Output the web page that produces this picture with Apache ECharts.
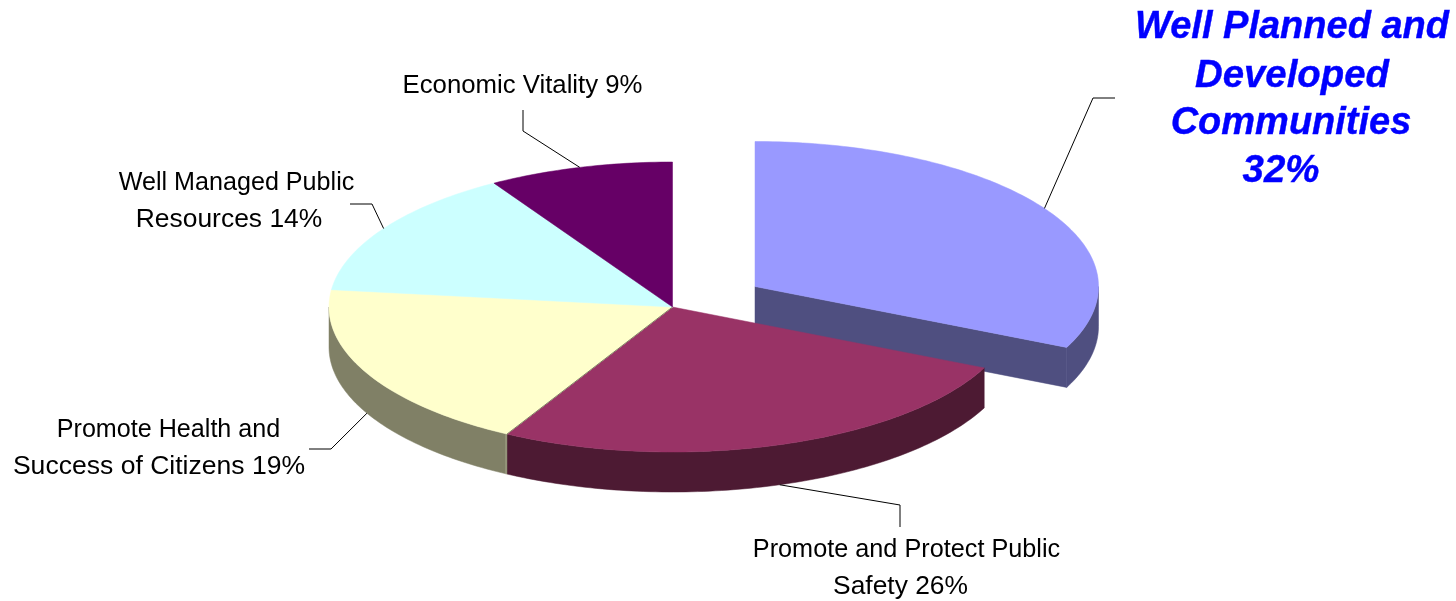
<!DOCTYPE html>
<html>
<head>
<meta charset="utf-8">
<style>html,body{margin:0;padding:0;background:#fff}#chart{width:1456px;height:601px}</style>
<script src="https://cdn.jsdelivr.net/npm/echarts@6/dist/echarts.min.js"></script>
</head>
<body>
<div id="chart"></div>
<script>
// ---- data ----
const categories = [
  'Well Planned and\nDeveloped\nCommunities',
  'Promote and Protect Public\nSafety',
  'Promote Health and\nSuccess of Citizens',
  'Well Managed Public\nResources',
  'Economic Vitality'
];
const shares = [31.9, 26.1, 18.9, 14.4, 8.7];
const percentSeparators = ['\n', ' ', ' ', ' ', ' '];

// ---- styles ----
const topColors  = ['#9999FF', '#993366', '#FFFFCC', '#CCFFFF', '#660066'];
const wallColors = ['#4F4F80', '#4D1A33', '#808066', '#668080', '#330033'];
const FONT = '"Liberation Sans", Arial, sans-serif';

// ---- layout ----
const CX = 672.5, CY = 307, RX = 343.5, RY = 145, DEPTH = 40;
const explode = [[82.5, -20.5], [0, 0], [0, 0], [0, 0], [0, 0]];
// each leader: elbow point, then end point (start is computed on the rim)
const leaders = [
  [[1093, 98], [1115, 98]],
  [[900, 505], [900, 527]],
  [[331, 449], [309, 449]],
  [[372, 204], [350, 204]],
  [[523, 131], [523, 110]]
];
// centre and horizontal stretch of each text line
const labelLines = [
  [[1292, 28, 1.0], [1292, 77, 1.01], [1291, 124, 1.0], [1281, 172, 1.01]],
  [[906.5, 550, 1.01], [900.5, 587, 1.055]],
  [[168.5, 430, 1.005], [159, 467, 1.062]],
  [[236.5, 183, 1.005], [229, 220, 1.057]],
  [[522.5, 86, 1.03]]
];
const leaderDrop = [false, true, true, false, false];

const total = shares.reduce((a, b) => a + b, 0);
const rad = d => d * Math.PI / 180;

function sliceAngles(i) {
  const before = shares.slice(0, i).reduce((a, b) => a + b, 0);
  return [-90 + before / total * 360, -90 + (before + shares[i]) / total * 360];
}
function rim(cx, cy, deg) {
  return [cx + RX * Math.cos(rad(deg)), cy + RY * Math.sin(rad(deg))];
}
function arc(cx, cy, a0, a1) {
  const pts = [], n = Math.max(2, Math.ceil(Math.abs(a1 - a0)));
  for (let k = 0; k <= n; k++) pts.push(rim(cx, cy, a0 + (a1 - a0) * k / n));
  return pts;
}

function renderSlice(params, api) {
  const i = params.dataIndex;
  const [a0, a1] = sliceAngles(i);
  const cx = CX + explode[i][0], cy = CY + explode[i][1];
  const children = [];

  // radial wall (only seen when the slice's end edge faces the viewer)
  if (explode[i][0] !== 0) {
    const e = rim(cx, cy, a1);
    children.push({ type: 'polygon', shape: { points: [[cx, cy], e, [e[0], e[1] + DEPTH], [cx, cy + DEPTH]] },
      style: { fill: wallColors[i], stroke: wallColors[i], lineWidth: 0.5 } });
  }
  // curved front wall: the part of the arc between 0 and 180 degrees
  const f0 = Math.max(a0, 0), f1 = Math.min(a1, 180);
  if (f1 > f0) {
    const top = arc(cx, cy, f0, f1);
    const bottom = top.map(p => [p[0], p[1] + DEPTH]).reverse();
    children.push({ type: 'polygon', shape: { points: top.concat(bottom) },
      style: { fill: wallColors[i], stroke: wallColors[i], lineWidth: 0.5 } });
  }
  // top face
  children.push({ type: 'polygon', shape: { points: [[cx, cy]].concat(arc(cx, cy, a0, a1)) },
    style: { fill: topColors[i], stroke: topColors[i], lineWidth: 0.5 } });

  // seam between the yellow and maroon slices
  if (i === 2) {
    const s = rim(cx, cy, a0);
    children.push({ type: 'line', shape: { x1: cx, y1: cy, x2: s[0], y2: s[1] },
      style: { stroke: '#808066', lineWidth: 1 } });
    children.push({ type: 'line', shape: { x1: s[0] - 1, y1: s[1], x2: s[0] - 1, y2: s[1] + DEPTH },
      style: { stroke: '#A6A68E', lineWidth: 1 } });
  }

  // leader line
  const mid = (a0 + a1) / 2;
  const start = rim(cx, cy, mid);
  if (leaderDrop[i]) start[1] += DEPTH;
  children.push({ type: 'polyline', shape: { points: [start].concat(leaders[i]) },
    style: { fill: null, stroke: '#000', lineWidth: 1 } });

  // label, one text per line
  const text = categories[i] + percentSeparators[i] + Math.round(api.value(0)) + '%';
  text.split('\n').forEach((line, k) => {
    const [x, y, sx] = labelLines[i][k];
    children.push({ type: 'text', x, y, scaleX: sx,
      style: i === 0
        ? { text: line, fill: '#0000FF', stroke: '#0000FF', lineWidth: 0.4, font: 'italic bold 38px ' + FONT, textAlign: 'center', textVerticalAlign: 'middle' }
        : { text: line, fill: '#000', font: '25px ' + FONT, textAlign: 'center', textVerticalAlign: 'middle' } });
  });
  return { type: 'group', children };
}

const chart = echarts.init(document.getElementById('chart'), null, { renderer: 'canvas' });
chart.setOption({
  animation: false,
  backgroundColor: '#fff',
  series: [{
    type: 'custom',
    coordinateSystem: 'none',
    renderItem: renderSlice,
    data: shares.map((v, i) => ({ name: categories[i], value: [v] })),
    silent: true
  }]
});
</script>
</body>
</html>
